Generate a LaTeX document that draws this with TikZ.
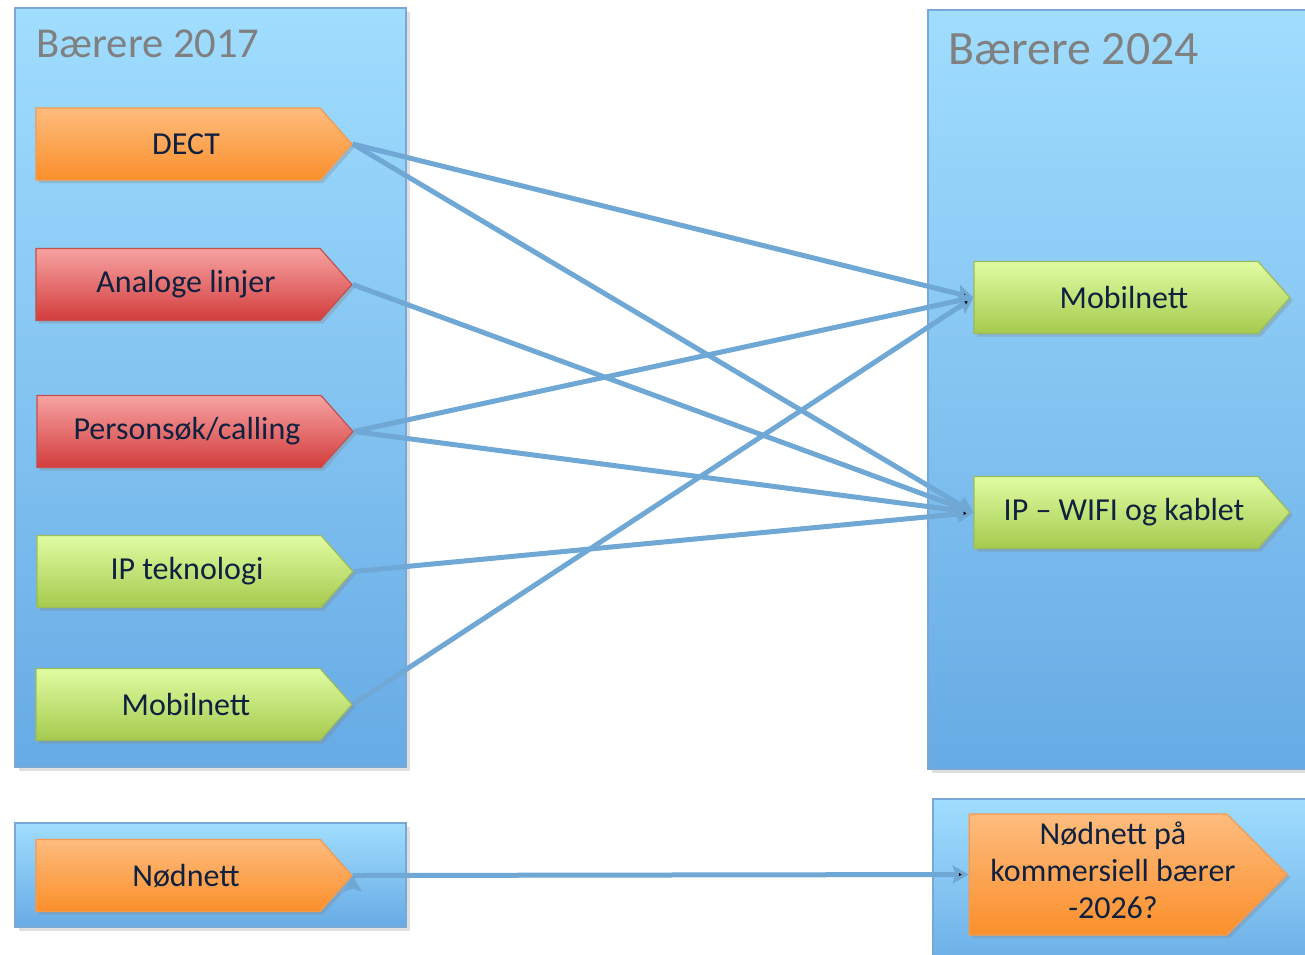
\documentclass[tikz,border=0pt]{standalone}
\usepackage{fontspec}
\setmainfont{Carlito}
\usetikzlibrary{positioning, arrows.meta, shapes.symbols, shadows}
\definecolor{panelTop}{HTML}{A0DDFE}
\definecolor{panelBot}{HTML}{67ABE5}
\definecolor{panelLine}{HTML}{7AA8D6}
\definecolor{orTop}{HTML}{FDBC7E}
\definecolor{orBot}{HTML}{FB8F2B}
\definecolor{orLine}{HTML}{F59A4E}
\definecolor{redTop}{HTML}{F7A3A2}
\definecolor{redBot}{HTML}{D23C3C}
\definecolor{redLine}{HTML}{C2504D}
\definecolor{grTop}{HTML}{E0FCA2}
\definecolor{grBot}{HTML}{A5CA4E}
\definecolor{grLine}{HTML}{9CBB5A}
\definecolor{txtNavy}{HTML}{0F213F}
\definecolor{linkBlue}{HTML}{6FA7D5}

\begin{document}
\begin{tikzpicture}[x=0.5pt, y=-0.5pt,
    panel/.style={draw=panelLine, line width=0.8pt, top color=panelTop, bottom color=panelBot,
      anchor=north west, inner sep=0pt,
      drop shadow={shadow xshift=2pt, shadow yshift=-2pt, opacity=0.25}},
    tag/.style={signal, signal to=east, signal pointer angle=97, minimum width=158pt,
      minimum height=36pt, inner sep=0pt, line width=0.6pt, text=txtNavy,
      font=\fontsize{16}{18.5}\selectfont, execute at begin node=\hspace*{8pt},
      drop shadow={shadow xshift=1.5pt, shadow yshift=-1.5pt, opacity=0.3}},
    orangetag/.style={tag, draw=orLine, top color=orTop, bottom color=orBot},
    redtag/.style={tag, draw=redLine, top color=redTop, bottom color=redBot},
    greentag/.style={tag, draw=grLine, top color=grTop, bottom color=grBot},
    link/.style={draw=linkBlue, line width=2.5pt, -{Stealth[length=8pt, width=9pt, inset=1.5pt]}}]
  \useasboundingbox (0,0) rectangle (1305,954);

  % panels
  \node[panel, minimum width=195.5pt, minimum height=379.5pt] (old) at (14,7) {};
  \node[panel, minimum width=200pt, minimum height=379.5pt] (new) at (927,9) {};
  \node[panel, minimum width=195.5pt, minimum height=52pt] (oldnod) at (14,822) {};
  \node[panel, minimum width=200pt, minimum height=90pt] (newnod) at (932,798) {};
  \node[anchor=base west, inner sep=0pt, text=gray, font=\fontsize{21.3}{25}\selectfont] (t2017) at (36,57) {Bærere 2017};
  \node[anchor=base west, inner sep=0pt, text=gray, font=\fontsize{23.9}{28}\selectfont] (t2024) at (948,64) {Bærere 2024};

  % bearers 2017
  \node[orangetag] (dect) at (178,144) {DECT};
  \node[redtag] (analog) at (178,284.5) {Analoge linjer};
  \node[redtag] (calling) at (179,431.5) {Personsøk/calling};
  \node[greentag] (ip) at (179,571.5) {IP teknologi};
  \node[greentag] (mob) at (178,704.5) {Mobilnett};
  \node[orangetag] (nod) at (178,875.5) {Nødnett};

  % bearers 2024
  \node[greentag] (mobnew) at (1116,297.5) {Mobilnett};
  \node[greentag] (ipnew) at (1116,512.5) {IP -- WIFI og kablet};
  \node[orangetag, minimum width=159pt, minimum height=60.5pt, signal pointer angle=90] (nodnew) at (1098,874.5)
    {\makebox[0pt]{\hspace*{7pt}\begin{tabular}{@{}c@{}}Nødnett på\\kommersiell bærer\\-2026?\end{tabular}}};

  \path[link]
    (dect.east) edge (mobnew.west)
    (dect.east) edge (ipnew.west)
    (analog.east) edge (ipnew.west)
    (calling.east) edge (mobnew.west)
    (calling.east) edge (ipnew.west)
    (ip.east) edge (ipnew.west)
    (mob.east) edge (mobnew.west)
    (nod.east) edge (nodnew.west)
    ;
\end{tikzpicture}
\end{document}
